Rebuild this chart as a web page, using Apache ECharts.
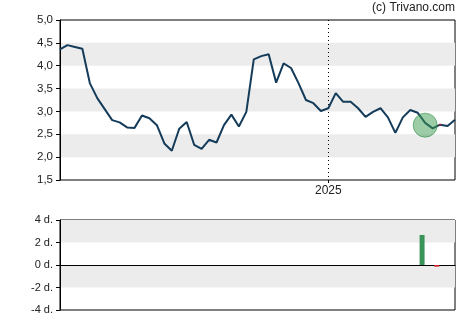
<!DOCTYPE html>
<html><head><meta charset="utf-8">
<script src="https://cdn.jsdelivr.net/npm/echarts@6/dist/echarts.min.js"></script>
<style>html,body{margin:0;padding:0;background:#fff}#c{width:470px;height:325px}</style>
</head><body><div id="c"></div>
<script>
const dates = ["2024-04-24","2024-05-01","2024-05-08","2024-05-15","2024-05-22","2024-05-29","2024-06-05","2024-06-12","2024-06-19","2024-06-26",
"2024-07-03","2024-07-10","2024-07-17","2024-07-24","2024-07-31","2024-08-07","2024-08-14","2024-08-21","2024-08-28","2024-09-04",
"2024-09-11","2024-09-18","2024-09-25","2024-10-02","2024-10-09","2024-10-16","2024-10-23","2024-10-30","2024-11-06","2024-11-13",
"2024-11-20","2024-11-27","2024-12-04","2024-12-11","2024-12-18","2024-12-25","2025-01-01","2025-01-08","2025-01-15","2025-01-22",
"2025-01-29","2025-02-05","2025-02-12","2025-02-19","2025-02-26","2025-03-05","2025-03-12","2025-03-19","2025-03-26","2025-04-02",
"2025-04-09","2025-04-16","2025-04-23","2025-04-30"];
const prices = [4.36,4.45,4.41,4.37,3.62,3.29,3.05,2.81,2.76,2.65,
2.64,2.91,2.85,2.70,2.30,2.14,2.62,2.77,2.27,2.18,
2.38,2.32,2.70,2.93,2.67,2.99,4.14,4.21,4.25,3.63,
4.05,3.95,3.62,3.25,3.18,3.01,3.07,3.40,3.21,3.21,
3.07,2.88,2.99,3.07,2.87,2.53,2.87,3.03,2.97,2.75,
2.63,2.71,2.68,2.82];
const highlightIndex = 49;
const highlightValue = 2.70;
const redDotIndex = 51;
const yearLabel = "2025";
const priceTicks = [1.5, 5.0, 0.5];
const dayTicks = [-4, 4, 2];
const signalDays = [null,null,null,null,null,null,null,null,null,null,
null,null,null,null,null,null,null,null,null,null,
null,null,null,null,null,null,null,null,null,null,
null,null,null,null,null,null,null,null,null,null,
null,null,null,null,null,null,null,null,null,2.67,
null,-0.15,null,null];

const yearIdx = dates.indexOf("2025-01-01");
const chart = echarts.init(document.getElementById('c'), null, {renderer:'canvas'});
const font = 'Arial, "Liberation Sans", sans-serif';
const bands = ['rgba(255,255,255,0)','#ececec'];
chart.setOption({
  animation:false,
  graphic:[{type:'text', right:15, top:2, style:{text:'(c) Trivano.com', font:'12px ' + font, fill:'#222'}}],
  grid:[
    {left:60, top:20, width:395, height:160, show:true, borderColor:'#000', borderWidth:1, backgroundColor:'transparent'},
    {left:60, top:220, width:395, height:90, show:true, borderColor:'#000', borderWidth:1, backgroundColor:'transparent'}
  ],
  xAxis:[
    {type:'category', gridIndex:0, data:dates, boundaryGap:false,
     axisLine:{show:false},
     axisTick:{show:true, interval:(i)=>i===yearIdx, length:3, lineStyle:{color:'#000'}},
     axisLabel:{interval:(i)=>i===yearIdx, formatter:(v)=>v==="2025-01-01"?yearLabel:'', color:'#222', fontSize:12, fontFamily:font, margin:5},
     splitLine:{show:true, interval:(i)=>i===yearIdx, lineStyle:{color:'#000', type:[1,3], width:1}}},
    {type:'category', gridIndex:1, data:dates, boundaryGap:true,
     axisLine:{show:true, onZero:true, lineStyle:{color:'#000', width:1}},
     axisTick:{show:false}, axisLabel:{show:false}, splitLine:{show:false}}
  ],
  yAxis:[
    {type:'value', gridIndex:0, min:priceTicks[0], max:priceTicks[1], interval:priceTicks[2],
     axisLine:{show:true, lineStyle:{color:'#000'}},
     axisTick:{show:true, length:4, lineStyle:{color:'#000'}},
     axisLabel:{formatter:(v)=>v.toFixed(1).replace('.',','), color:'#222', fontSize:11.5, fontFamily:font, margin:7},
     splitLine:{show:false},
     splitArea:{show:true, areaStyle:{color:bands}}},
    {type:'value', gridIndex:1, min:dayTicks[0], max:dayTicks[1], interval:dayTicks[2],
     axisLine:{show:true, lineStyle:{color:'#000'}},
     axisTick:{show:true, length:4, lineStyle:{color:'#000'}},
     axisLabel:{formatter:(v)=>v+' d.', color:'#222', fontSize:11, fontFamily:font, margin:7},
     splitLine:{show:false},
     splitArea:{show:true, areaStyle:{color:bands}}}
  ],
  series:[
    {type:'line', xAxisIndex:0, yAxisIndex:0, data:prices, showSymbol:false, symbol:'none',
     lineStyle:{color:'#143c5a', width:2}, z:3,
     markPoint:{symbol:'circle', symbolSize:24, silent:true, label:{show:false},
       itemStyle:{color:'rgba(60,155,80,0.5)', borderColor:'rgba(50,140,70,0.6)', borderWidth:1},
       data:[{coord:[highlightIndex, highlightValue]}]}},
    {type:'scatter', xAxisIndex:0, yAxisIndex:0, symbolSize:2, z:5,
     itemStyle:{color:'#e0202a'}, data:[[redDotIndex, prices[redDotIndex]]]},
    {type:'bar', xAxisIndex:1, yAxisIndex:1, barWidth:5,
     data:signalDays.map(v=>v===null?null:{value:v, itemStyle:{color:v>=0?'#3a945a':'#d8202a'}})}
  ]
});
</script></body></html>
